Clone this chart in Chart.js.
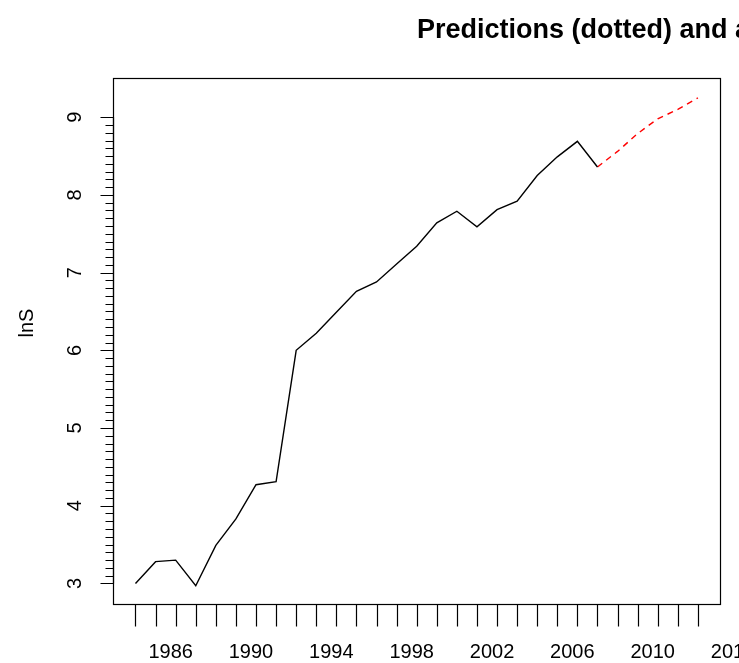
<!DOCTYPE html>
<html>
<head>
<meta charset="utf-8">
<title>lnS</title>
<script src="https://cdn.jsdelivr.net/npm/chart.js@4.4.1/dist/chart.umd.min.js"></script>
<style>
    html, body { margin: 0; padding: 0; background: #ffffff; }
    #wrap { width: 739px; height: 663px; }
</style>
</head>
<body>
<div id="wrap"><canvas id="lnsChart" width="739" height="663"></canvas></div>
<script>
// Observed series (black line)
const years = [1984, 1985, 1986, 1987, 1988, 1989, 1990, 1991, 1992, 1993, 1994, 1995,
    1996, 1997, 1998, 1999, 2000, 2001, 2002, 2003, 2004, 2005, 2006, 2007];
const lnS = [3.00, 3.28, 3.30, 2.97, 3.49, 3.83, 4.27, 4.31, 6.00, 6.22, 6.49, 6.76,
    6.88, 7.11, 7.34, 7.64, 7.79, 7.59, 7.81, 7.92, 8.25, 8.49, 8.69, 8.36];

// Predictions (red dashed line)
const predYears = [2007, 2008, 2009, 2010, 2011, 2012];
const predLnS = [8.36, 8.56, 8.79, 8.98, 9.10, 9.25];

// Axes
const yTicks = [3, 4, 5, 6, 7, 8, 9];
const xTickYears = [1984, 1985, 1986, 1987, 1988, 1989, 1990, 1991, 1992, 1993, 1994,
    1995, 1996, 1997, 1998, 1999, 2000, 2001, 2002, 2003, 2004, 2005, 2006, 2007, 2008,
    2009, 2010, 2011, 2012];
const xLabels = [1986, 1990, 1994, 1998, 2002, 2006, 2010, 2014];

const titleText = "Predictions (dotted) and actual";
const yTitle = "lnS";

document.addEventListener("DOMContentLoaded", () => {
    const ctx = document.getElementById("lnsChart").getContext("2d");
    const FONT = '"Liberation Sans", Arial, sans-serif';

    // Box, axes, ticks and titles in the style of base R graphics
    const rAxes = {
        id: "rAxes",
        afterDraw(chart) {
            const c = chart.ctx;
            const area = chart.chartArea;
            const xs = chart.scales.x;
            const ys = chart.scales.y;
            const px = v => Math.round(v) + 0.5;

            c.save();
            c.strokeStyle = "#000000";
            c.fillStyle = "#000000";
            c.lineWidth = 1.2;

            // plot box
            c.strokeRect(px(area.left), px(area.top),
                Math.round(area.right - area.left), Math.round(area.bottom - area.top));

            // y axis: major ticks every 1, minor every 0.1
            const x0 = px(area.left);
            c.beginPath();
            c.moveTo(x0, ys.getPixelForValue(yTicks[0]));
            c.lineTo(x0, ys.getPixelForValue(yTicks[yTicks.length - 1]));
            for (let i = 0; i <= (yTicks.length - 1) * 10; i++) {
                const v = yTicks[0] + i / 10;
                const yy = px(ys.getPixelForValue(v));
                const len = i % 10 === 0 ? 13 : 8;
                c.moveTo(x0, yy);
                c.lineTo(x0 - len, yy);
            }
            c.stroke();

            // y tick labels, rotated
            c.font = "20px " + FONT;
            c.textAlign = "center";
            c.textBaseline = "middle";
            yTicks.forEach(v => {
                c.save();
                c.translate(75, ys.getPixelForValue(v));
                c.rotate(-Math.PI / 2);
                c.fillText(String(v), 0, 0);
                c.restore();
            });

            // y axis title
            c.save();
            c.translate(27, 323);
            c.rotate(-Math.PI / 2);
            c.fillText(yTitle, 0, 0);
            c.restore();

            // x ticks hang below the box
            const yb = px(area.bottom);
            c.beginPath();
            xTickYears.forEach(v => {
                const xx = px(xs.getPixelForValue(v));
                c.moveTo(xx, yb);
                c.lineTo(xx, yb + 22);
            });
            c.stroke();

            // x labels sit a little left of their ticks
            xLabels.forEach(v => {
                c.fillText(String(v), xs.getPixelForValue(v - 0.25), 652);
            });

            // main title
            c.font = "bold 27px " + FONT;
            c.textAlign = "left";
            c.textBaseline = "alphabetic";
            c.fillText(titleText, 417, 38);

            c.restore();
        }
    };

    new Chart(ctx, {
        type: "line",
        data: {
            datasets: [
                {
                    label: "lnS",
                    data: years.map((y, i) => ({ x: y, y: lnS[i] })),
                    borderColor: "#000000",
                    borderWidth: 1.4,
                    pointRadius: 0,
                    tension: 0,
                },
                {
                    label: "Predictions",
                    data: predYears.map((y, i) => ({ x: y, y: predLnS[i] })),
                    borderColor: "#ff0000",
                    borderWidth: 1.4,
                    borderDash: [6, 5],
                    pointRadius: 0,
                    tension: 0,
                },
            ],
        },
        options: {
            responsive: false,
            animation: false,
            devicePixelRatio: 1,
            layout: {
                padding: { left: 113, top: 78, right: 19, bottom: 59 },
            },
            plugins: {
                legend: { display: false },
                tooltip: { enabled: false },
                title: { display: false },
            },
            scales: {
                x: { type: "linear", min: 1982.88, max: 2013.1, display: false },
                y: { type: "linear", min: 2.735, max: 9.505, display: false },
            },
        },
        plugins: [rAxes],
    });
});
</script>
</body>
</html>
